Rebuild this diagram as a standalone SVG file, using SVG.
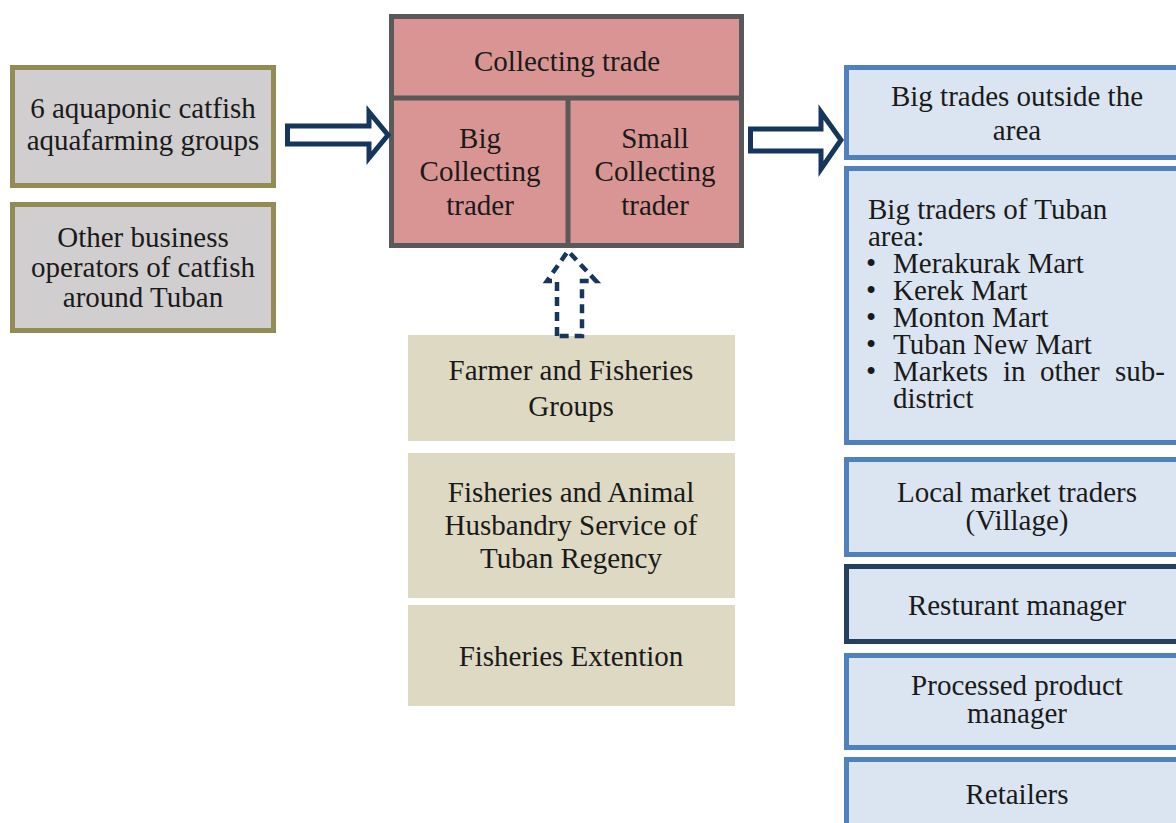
<svg xmlns="http://www.w3.org/2000/svg" width="1176" height="823" viewBox="0 0 1176 823">
  <style>
    text { font-family: "Liberation Serif", "Times New Roman", serif; font-size: 29px; fill: #1a1a1a; }
    .c { text-anchor: middle; }
    .src { fill: #D0CECE; stroke: #948A54; stroke-width: 5; }
    .hub { fill: #D99594; stroke: #595959; stroke-width: 5; }
    .sup { fill: #DDD9C3; }
    .mkt { fill: #DBE5F1; stroke: #4F81BD; stroke-width: 5; }
    .mkt-dark { fill: #DBE5F1; stroke: #243F60; stroke-width: 5; }
    .arrow { fill: #ffffff; stroke: #17365D; stroke-width: 5; stroke-linejoin: miter; }
    .arrow-dash { fill: #ffffff; stroke: #17365D; stroke-width: 4.5; stroke-dasharray: 9 6; }
  </style>
  <rect width="1176" height="823" fill="#ffffff"/>

  <!-- producers -->
  <g id="node-aquaponic-groups">
    <rect class="src" x="12.5" y="67.5" width="261" height="118"/>
    <text class="c" x="143" y="118">6 aquaponic catfish</text>
    <text class="c" x="143" y="150">aquafarming groups</text>
  </g>
  <g id="node-other-operators">
    <rect class="src" x="12.5" y="204.5" width="261" height="126"/>
    <text class="c" x="143" y="247">Other business</text>
    <text class="c" x="143" y="277">operators of catfish</text>
    <text class="c" x="143" y="307">around Tuban</text>
  </g>

  <!-- collecting trade -->
  <g id="node-collecting-trade">
    <rect class="hub" x="391.5" y="16.5" width="350" height="229"/>
    <line x1="391.5" y1="98" x2="741.5" y2="98" stroke="#595959" stroke-width="5"/>
    <text class="c" x="567" y="71">Collecting trade</text>
  </g>
  <g id="node-big-collecting">
    <line x1="568" y1="98" x2="568" y2="245.5" stroke="#595959" stroke-width="5"/>
    <text class="c" x="480" y="148">Big</text>
    <text class="c" x="480" y="181">Collecting</text>
    <text class="c" x="480" y="215">trader</text>
  </g>
  <g id="node-small-collecting">
    <text class="c" x="655" y="148">Small</text>
    <text class="c" x="655" y="181">Collecting</text>
    <text class="c" x="655" y="215">trader</text>
  </g>

  <!-- support institutions -->
  <g id="node-farmer-groups">
    <rect class="sup" x="408" y="335" width="327" height="106"/>
    <text class="c" x="571" y="380">Farmer and Fisheries</text>
    <text class="c" x="571" y="416">Groups</text>
  </g>
  <g id="node-fisheries-service">
    <rect class="sup" x="408" y="453" width="327" height="145"/>
    <text class="c" x="571" y="502">Fisheries and Animal</text>
    <text class="c" x="571" y="535">Husbandry Service of</text>
    <text class="c" x="571" y="568">Tuban Regency</text>
  </g>
  <g id="node-extension">
    <rect class="sup" x="408" y="605" width="327" height="101"/>
    <text class="c" x="571" y="666">Fisheries Extention</text>
  </g>

  <!-- markets -->
  <g id="node-outside-traders">
    <rect class="mkt" x="846.5" y="67.5" width="360" height="90"/>
    <text class="c" x="1017" y="106">Big trades outside the</text>
    <text class="c" x="1017" y="140">area</text>
  </g>
  <g id="node-tuban-traders">
    <rect class="mkt" x="846.5" y="168.5" width="360" height="274"/>
    <!-- single-spaced bulleted list, last item justified -->
    <text>
      <tspan x="868" y="219">Big traders of Tuban</tspan>
      <tspan x="868" y="246">area:</tspan>
      <tspan x="866" y="273">•</tspan><tspan x="893" y="273">Merakurak Mart</tspan>
      <tspan x="866" y="300">•</tspan><tspan x="893" y="300">Kerek Mart</tspan>
      <tspan x="866" y="327">•</tspan><tspan x="893" y="327">Monton Mart</tspan>
      <tspan x="866" y="354">•</tspan><tspan x="893" y="354">Tuban New Mart</tspan>
      <tspan x="866" y="381">•</tspan><tspan x="893" y="381">Markets</tspan><tspan x="1003" y="381">in</tspan><tspan x="1040" y="381">other</tspan><tspan x="1115" y="381">sub-</tspan>
      <tspan x="893" y="408">district</tspan>
    </text>
  </g>
  <g id="node-local-market">
    <rect class="mkt" x="846.5" y="459.5" width="360" height="95"/>
    <text class="c" x="1017" y="502">Local market traders</text>
    <text class="c" x="1017" y="530">(Village)</text>
  </g>
  <g id="node-restaurant">
    <rect class="mkt-dark" x="846.5" y="566.5" width="360" height="75"/>
    <text class="c" x="1017" y="615">Resturant manager</text>
  </g>
  <g id="node-processed">
    <rect class="mkt" x="846.5" y="655.5" width="360" height="92"/>
    <text class="c" x="1017" y="695">Processed product</text>
    <text class="c" x="1017" y="723">manager</text>
  </g>
  <g id="node-retailers">
    <rect class="mkt" x="846.5" y="759.5" width="360" height="100"/>
    <text class="c" x="1017" y="804">Retailers</text>
  </g>

  <!-- connectors -->
  <g id="connectors">
    <polygon class="arrow" points="287.5,126 369,126 369,112 388,135 369,158 369,144 287.5,144"/>
    <polygon class="arrow" points="750.5,129 821,129 821,112 841,140 821,169 821,151 750.5,151"/>
    <polygon class="arrow-dash" points="557,336 557,281 547,281 568,251 596,281 582,281 582,336"/>
  </g>
</svg>
